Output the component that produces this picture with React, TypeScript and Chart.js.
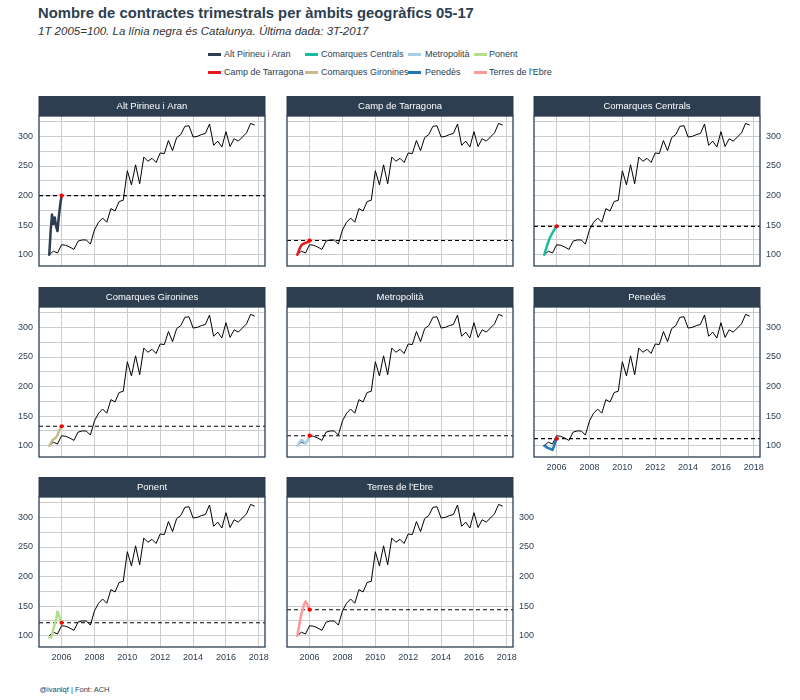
import React, { useEffect, useRef } from "react";
import { Chart, registerables } from "chart.js";

Chart.register(...registerables);

const TITLE = "Nombre de contractes trimestrals per àmbits geogràfics 05-17";
const SUBTITLE = "1T 2005=100. La línia negra és Catalunya. Última dada: 3T-2017";
const CAPTION = "@ivanlqf | Font: ACH";

const quarters = [
  "1T-2005", "2T-2005", "3T-2005", "4T-2005",
  "1T-2006", "2T-2006", "3T-2006", "4T-2006",
  "1T-2007", "2T-2007", "3T-2007", "4T-2007",
  "1T-2008", "2T-2008", "3T-2008", "4T-2008",
  "1T-2009", "2T-2009", "3T-2009", "4T-2009",
  "1T-2010", "2T-2010", "3T-2010", "4T-2010",
  "1T-2011", "2T-2011", "3T-2011", "4T-2011",
  "1T-2012", "2T-2012", "3T-2012", "4T-2012",
  "1T-2013", "2T-2013", "3T-2013", "4T-2013",
  "1T-2014", "2T-2014", "3T-2014", "4T-2014",
  "1T-2015", "2T-2015", "3T-2015", "4T-2015",
  "1T-2016", "2T-2016", "3T-2016", "4T-2016",
  "1T-2017", "2T-2017", "3T-2017",
];

const catalunya = [
  100, 106, 103, 117, 116, 113, 109, 123, 125, 125, 118, 142,
  155, 162, 155, 178, 174, 190, 192, 242, 218, 252, 220, 265,
  258, 263, 256, 272, 271, 293, 276, 298, 303, 317, 318, 299,
  300, 303, 305, 321, 285, 292, 282, 308, 283, 296, 292, 299,
  306, 322, 319,
];

const regionMonths = [
  "03/2005", "04/2005", "05/2005", "06/2005", "07/2005",
  "08/2005", "09/2005", "10/2005", "11/2005", "12/2005",
];

const regions = [
  "Alt Pirineu i Aran",
  "Camp de Tarragona",
  "Comarques Centrals",
  "Comarques Gironines",
  "Metropolità",
  "Penedès",
  "Ponent",
  "Terres de l'Ebre",
];

const regionColors = [
  "#2c3e50", "#e31a1c", "#1abc9c", "#c9b98b",
  "#a6cee3", "#1f78b4", "#b2df8a", "#fb9a99",
];

const altPirineu = [100, 140, 168, 152, 163, 148, 140, 165, 185, 200];
const campTarragona = [100, 106, 112, 116, 118, 119, 120, 121, 122, 124];
const comarquesCentrals = [100, 108, 115, 122, 128, 133, 137, 141, 145, 148];
const comarquesGironines = [100, 104, 108, 111, 112, 114, 118, 124, 129, 133];
const metropolita = [100, 103, 107, 110, 109, 106, 104, 107, 112, 117];
const penedes = [100, 99, 97, 96, 95, 94, 93, 99, 106, 112];
const ponent = [97, 97, 100, 112, 120, 128, 141, 136, 126, 122];
const terresEbre = [100, 112, 125, 137, 145, 153, 158, 155, 148, 144];

const regionValues = [
  altPirineu, campTarragona, comarquesCentrals, comarquesGironines,
  metropolita, penedes, ponent, terresEbre,
];

const xTicks = [2006, 2008, 2010, 2012, 2014, 2016, 2018];
const yTicks = [100, 125, 150, 175, 200, 225, 250, 275, 300, 325];
const yLabelStep = 50;

const X_MIN = 2004.625;
const X_MAX = 2018.375;
const Y_MIN = 81;
const Y_MAX = 334.5;

// layout (page px)
const COL_LEFT = [39, 287, 534];
const ROW_TOP = [96, 287, 477];
const PLOT_W = 226;
const PLOT_H = 150;
const STRIP_H = 20;
const AXIS_W = 40;
const XAXIS_H = 20;

const DARK = "#2c3e50";
const FONT = "'Liberation Sans', Arial, sans-serif";
const GRID = "#cccccc";

function quarterToYear(q: string) {
  const [qt, y] = q.split("-");
  return Number(y) + Number(qt.replace("T", "")) / 4;
}
function monthToYear(m: string) {
  const [mm, y] = m.split("/");
  return Number(y) + Number(mm) / 12;
}

function Panel({ idx }: { idx: number }) {
  const ref = useRef<HTMLCanvasElement>(null);
  const row = Math.floor(idx / 3);
  const col = idx % 3;
  const showLeft = col === 0;
  const showRight = col === 2 || idx === regions.length - 1;
  const showBottom = idx >= regions.length - 3;
  const left = COL_LEFT[col] - AXIS_W;
  const top = ROW_TOP[row];
  const width = PLOT_W + 2 * AXIS_W;
  const height = STRIP_H + PLOT_H + XAXIS_H;

  useEffect(() => {
    const canvas = ref.current;
    if (!canvas) return;
    const cat = quarters.map((q, i) => ({ x: quarterToYear(q), y: catalunya[i] }));
    const vals = regionValues[idx];
    const reg = regionMonths.map((m, i) => ({ x: monthToYear(m), y: vals[i] }));
    const last = reg[reg.length - 1];
    const name = regions[idx];

    const panelPlugin = {
      id: "panelDeco" + idx,
      beforeDatasetsDraw(chart: any) {
        const { ctx, chartArea } = chart;
        const y = chart.scales.y.getPixelForValue(last.y);
        ctx.save();
        ctx.strokeStyle = "#000";
        ctx.lineWidth = 1.1;
        ctx.setLineDash([4, 3]);
        ctx.beginPath();
        ctx.moveTo(chartArea.left, y);
        ctx.lineTo(chartArea.right, y);
        ctx.stroke();
        ctx.restore();
      },
      afterDraw(chart: any) {
        const { ctx, chartArea } = chart;
        const w = chartArea.right - chartArea.left;
        ctx.save();
        ctx.fillStyle = DARK;
        ctx.fillRect(chartArea.left - 0.5, chartArea.top - STRIP_H, w + 1, STRIP_H);
        ctx.fillStyle = "#ffffff";
        ctx.font = `9.5px ${FONT}`;
        ctx.textAlign = "center";
        ctx.textBaseline = "middle";
        ctx.fillText(name, chartArea.left + w / 2, chartArea.top - STRIP_H / 2 + 0.5);
        ctx.strokeStyle = DARK;
        ctx.lineWidth = 1.3;
        ctx.strokeRect(chartArea.left, chartArea.top, w, chartArea.bottom - chartArea.top);
        ctx.restore();
      },
    };

    const tickFont = { family: FONT, size: 9 };
    const yCallback = (v: any) => (Number(v) % yLabelStep === 0 ? String(v) : "");
    const setY = (s: any) => {
      s.ticks = yTicks.map((v) => ({ value: v }));
    };

    const chart = new Chart(canvas, {
      type: "line",
      data: {
        datasets: [
          {
            data: [last],
            showLine: false,
            pointRadius: 2.1,
            pointBackgroundColor: "#ff0000",
            pointBorderWidth: 0,
          },
          {
            data: reg,
            borderColor: regionColors[idx],
            borderWidth: 2.5,
            borderJoinStyle: "round",
            borderCapStyle: "round",
            pointRadius: 0,
            tension: 0,
          },
          {
            data: cat,
            borderColor: "#000000",
            borderWidth: 1,
            pointRadius: 0,
            tension: 0,
          },
        ],
      } as any,
      options: {
        animation: false,
        responsive: false,
        events: [],
        layout: { padding: { top: STRIP_H, left: 0, right: 0, bottom: 0 } },
        plugins: { legend: { display: false }, tooltip: { enabled: false } },
        scales: {
          x: {
            type: "linear",
            min: X_MIN,
            max: X_MAX,
            afterBuildTicks: (s: any) => {
              s.ticks = xTicks.map((v) => ({ value: v }));
            },
            afterFit: (s: any) => {
              s.height = XAXIS_H;
            },
            grid: { color: GRID, lineWidth: 1, drawTicks: false },
            border: { display: false },
            ticks: {
              display: showBottom,
              font: tickFont,
              color: DARK,
              padding: 5,
              maxRotation: 0,
              autoSkip: false,
              callback: (v: any) => String(v),
            },
          },
          y: {
            type: "linear",
            position: "left",
            min: Y_MIN,
            max: Y_MAX,
            afterBuildTicks: setY,
            afterFit: (s: any) => {
              s.width = AXIS_W;
            },
            grid: { color: GRID, lineWidth: 1, drawTicks: false },
            border: { display: false },
            ticks: {
              display: showLeft,
              font: tickFont,
              color: DARK,
              padding: 6,
              autoSkip: false,
              callback: yCallback,
            },
          },
          y2: {
            type: "linear",
            position: "right",
            min: Y_MIN,
            max: Y_MAX,
            afterBuildTicks: setY,
            afterFit: (s: any) => {
              s.width = AXIS_W;
            },
            grid: { display: false, drawTicks: false },
            border: { display: false },
            ticks: {
              display: showRight,
              font: tickFont,
              color: DARK,
              padding: 6,
              autoSkip: false,
              callback: yCallback,
            },
          },
        },
      } as any,
      plugins: [panelPlugin],
    });
    return () => chart.destroy();
  }, [idx]);

  return (
    <canvas
      ref={ref}
      width={width}
      height={height}
      style={{ position: "absolute", left, top, width, height }}
    />
  );
}

function TextAt({
  x, baseline, size, children, style,
}: { x: number; baseline: number; size: number; children: any; style?: any }) {
  return (
    <div
      style={{
        position: "absolute",
        left: x,
        top: baseline - 0.8465 * size,
        fontSize: size,
        lineHeight: `${size}px`,
        fontFamily: FONT,
        whiteSpace: "nowrap",
        ...style,
      }}
    >
      {children}
    </div>
  );
}

const LEGEND_KEY_X = [208, 305, 408, 474];
const LEGEND_TEXT_X = [224, 321, 425, 489];
const LEGEND_ROW_Y = [54.3, 72.7];

export default function App() {
  return (
    <div
      style={{
        position: "absolute",
        left: 0,
        top: 0,
        width: 800,
        height: 700,
        background: "#ffffff",
        overflow: "hidden",
      }}
    >
      <TextAt x={38} baseline={18.6} size={14.8} style={{ fontWeight: "bold", color: DARK }}>
        {TITLE}
      </TextAt>
      <TextAt x={38} baseline={35.3} size={11.5} style={{ fontStyle: "italic", color: "#333333" }}>
        {SUBTITLE}
      </TextAt>
      {regions.map((r, i) => {
        const c = Math.floor(i / 2);
        const rr = i % 2;
        const cy = LEGEND_ROW_Y[rr];
        return (
          <React.Fragment key={r}>
            <div
              style={{
                position: "absolute",
                left: LEGEND_KEY_X[c],
                top: cy - 1.25,
                width: 13,
                height: 2.5,
                background: regionColors[i],
              }}
            />
            <TextAt x={LEGEND_TEXT_X[c]} baseline={cy + 3.2} size={9} style={{ color: DARK }}>
              {r}
            </TextAt>
          </React.Fragment>
        );
      })}
      {regions.map((r, i) => (
        <Panel key={r} idx={i} />
      ))}
      <TextAt x={39.5} baseline={692} size={7.5} style={{ color: DARK }}>
        {CAPTION}
      </TextAt>
    </div>
  );
}
